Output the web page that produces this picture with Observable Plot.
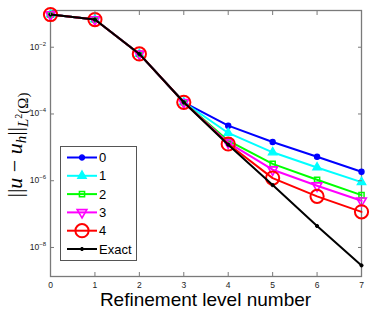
<!DOCTYPE html>
<html><head><meta charset="utf-8">
<script src="https://cdn.jsdelivr.net/npm/d3@7"></script>
<script src="https://cdn.jsdelivr.net/npm/@observablehq/plot@0.6"></script>
<style>
body{margin:0;background:#fff}
#chart svg{font-family:"Liberation Sans",Arial,sans-serif;overflow:visible}
</style>
</head><body><div id="chart"></div>
<script>
// Refinement levels (x) and error values per series
const levels = [0, 1, 2, 3, 4, 5, 6, 7];
const seriesNames = ["0", "1", "2", "3", "4", "Exact"];
const err0 = [0.0955, 0.0676, 0.0063, 2.24e-4, 4.47e-5, 1.45e-5, 5.25e-6, 1.86e-6];
const err1 = [0.0955, 0.0676, 0.0063, 2.24e-4, 2.7e-5, 7.1e-6, 2.5e-6, 9.1e-7];
const err2 = [0.0955, 0.0676, 0.0063, 2.24e-4, 1.58e-5, 3.2e-6, 1.07e-6, 3.7e-7];
const err3 = [0.0955, 0.0676, 0.0063, 2.24e-4, 1.38e-5, 2.14e-6, 7.1e-7, 2.5e-7];
const err4 = [0.0955, 0.0676, 0.0063, 2.24e-4, 1.26e-5, 1.2e-6, 3.4e-7, 1.17e-7];
const errExact = [0.0955, 0.0676, 0.0063, 2.24e-4, 1.2e-5, 7.4e-7, 4.4e-8, 2.9e-9];
const yTicks = [1e-2, 1e-4, 1e-6, 1e-8];
const yTickBase = "10";
const yTickExponents = ["\u22122", "\u22124", "\u22126", "\u22128"];
const yDomain = [1.35e-9, 0.126];

const downTriangle = {
  draw(ctx, size) {
    const s = Math.sqrt(size * 4 / Math.sqrt(3));
    const h = s * Math.sqrt(3) / 2;
    ctx.moveTo(0, h * 2 / 3);
    ctx.lineTo(s / 2, -h / 3);
    ctx.lineTo(-s / 2, -h / 3);
    ctx.closePath();
  }
};

const styles = [
  {color: "#0000ff", symbol: "circle", r: 2.6, fill: "#0000ff", sw: 1.2},
  {color: "#00ffff", symbol: "triangle", r: 3.2, fill: "#00ffff", sw: 1.2},
  {color: "#00ff00", symbol: "square", r: 2.9, fill: "none", sw: 1.5},
  {color: "#ff00ff", symbol: downTriangle, r: 3.6, fill: "none", sw: 1.6},
  {color: "#ff0000", symbol: "circle", r: 6.6, fill: "none", sw: 2},
  {color: "#000000", symbol: "circle", r: 1.6, fill: "#000000", sw: 1}
];
const allErr = [err0, err1, err2, err3, err4, errExact];
const series = seriesNames.map((name, k) => ({
  name, style: styles[k],
  rows: levels.map((lv, i) => ({level: lv, err: allErr[k][i], name}))
}));

const marks = [Plot.frame({stroke: "#7a7a7a", strokeWidth: 1.3})];
for (const s of series) {
  marks.push(Plot.line(s.rows, {x: "level", y: "err", stroke: s.style.color, strokeWidth: 2}));
  marks.push(Plot.dot(s.rows, {x: "level", y: "err", stroke: s.style.color, fill: s.style.fill,
    symbol: s.style.symbol, r: s.style.r, strokeWidth: s.style.sw}));
}
marks.push(
  Plot.axisX({anchor: "bottom", ticks: levels, tickSize: -4, tickPadding: 9, tickFormat: d => String(d),
    fontSize: 8.5, stroke: "#7a7a7a", fill: "#222", label: null}),
  Plot.axisX({anchor: "top", ticks: levels, tickSize: -4, tickFormat: () => "", stroke: "#7a7a7a", label: null}),
  Plot.axisY({anchor: "left", ticks: yTicks, tickSize: -4, tickFormat: () => "", stroke: "#7a7a7a", label: null}),
  Plot.axisY({anchor: "right", ticks: yTicks, tickSize: -4, tickFormat: () => "", stroke: "#7a7a7a", label: null})
);

const chart = Plot.plot({
  width: 374, height: 313,
  marginLeft: 50, marginRight: 13, marginTop: 10, marginBottom: 37,
  x: {domain: [0, 7]},
  y: {type: "log", domain: yDomain},
  style: {background: "#fff", fontFamily: "Liberation Sans, Arial, sans-serif"},
  marks
});
document.getElementById("chart").appendChild(chart);

const svg = d3.select(chart);
const yScale = chart.scale("y");

// Y tick labels with real superscripts
yTicks.forEach((t, i) => {
  const y = yScale.apply(t);
  const tx = svg.append("text").attr("x", 46).attr("y", y).attr("dy", "0.33em")
    .attr("text-anchor", "end").attr("fill", "#222").attr("font-size", 8.5);
  tx.append("tspan").text(yTickBase);
  tx.append("tspan").attr("font-size", 6).attr("dy", -4).text(yTickExponents[i]);
});

// X axis title
svg.append("text").attr("x", 205.5).attr("y", 306).attr("text-anchor", "middle")
  .attr("font-size", 19).attr("fill", "#000").text("Refinement level number");

// Y axis title ||u - u_h||_{L^2(Ω)}
const yl = svg.append("text").attr("transform", "translate(22,145) rotate(-90)")
  .attr("text-anchor", "middle").attr("font-family", "Liberation Serif, DejaVu Serif, serif")
  .attr("font-size", 22).attr("fill", "#000");
yl.append("tspan").text("||");
yl.append("tspan").attr("font-style", "italic").text("u");
yl.append("tspan").text(" \u2212 ");
yl.append("tspan").attr("font-style", "italic").text("u");
yl.append("tspan").attr("font-style", "italic").attr("font-size", 15).attr("dy", 4).text("h");
yl.append("tspan").attr("dy", -4).text("||");
yl.append("tspan").attr("font-style", "italic").attr("font-size", 15).attr("dy", 6).text("L");
yl.append("tspan").attr("font-size", 10).attr("dy", -6).text("2");
yl.append("tspan").attr("font-size", 15).attr("dy", 6).text("(\u03A9)");

// Legend
const lg = svg.append("g").attr("text-anchor", "start");
lg.append("rect").attr("x", 60.5).attr("y", 146.5).attr("width", 76).attr("height", 114)
  .attr("fill", "#fff").attr("stroke", "#555").attr("stroke-width", 1);
series.forEach((s, i) => {
  const y = 157.5 + i * 18.3;
  lg.append("line").attr("x1", 67).attr("x2", 97).attr("y1", y).attr("y2", y)
    .attr("stroke", s.style.color).attr("stroke-width", 2);
  const symObj = typeof s.style.symbol === "string"
    ? ({circle: d3.symbolCircle, triangle: d3.symbolTriangle, square: d3.symbolSquare})[s.style.symbol]
    : s.style.symbol;
  lg.append("path").attr("transform", `translate(82,${y})`)
    .attr("d", d3.symbol(symObj, Math.PI * s.style.r * s.style.r)())
    .attr("fill", s.style.fill).attr("stroke", s.style.color).attr("stroke-width", s.style.sw);
  lg.append("text").attr("x", 99).attr("y", y).attr("dy", "0.35em").attr("font-size", 13)
    .attr("text-anchor", "start").attr("fill", "#000").text(s.name);
});
</script>
</body></html>
